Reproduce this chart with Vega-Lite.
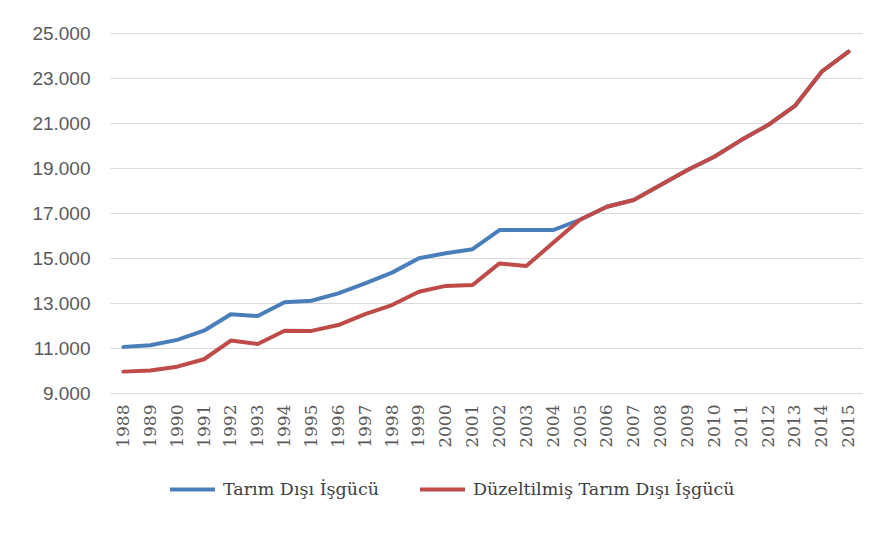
{
  "$schema": "https://vega.github.io/schema/vega-lite/v6.json",
  "autosize": "none",
  "width": 752,
  "height": 360,
  "padding": {"left": 110, "top": 33, "right": 26, "bottom": 141},
  "background": "white",
  "data": {
    "values": [
      {"year": "1988", "series": "Tarım Dışı İşgücü", "value": 11050},
      {"year": "1989", "series": "Tarım Dışı İşgücü", "value": 11120},
      {"year": "1990", "series": "Tarım Dışı İşgücü", "value": 11360},
      {"year": "1991", "series": "Tarım Dışı İşgücü", "value": 11770},
      {"year": "1992", "series": "Tarım Dışı İşgücü", "value": 12500},
      {"year": "1993", "series": "Tarım Dışı İşgücü", "value": 12420},
      {"year": "1994", "series": "Tarım Dışı İşgücü", "value": 13030},
      {"year": "1995", "series": "Tarım Dışı İşgücü", "value": 13100},
      {"year": "1996", "series": "Tarım Dışı İşgücü", "value": 13430},
      {"year": "1997", "series": "Tarım Dışı İşgücü", "value": 13870},
      {"year": "1998", "series": "Tarım Dışı İşgücü", "value": 14350},
      {"year": "1999", "series": "Tarım Dışı İşgücü", "value": 14990},
      {"year": "2000", "series": "Tarım Dışı İşgücü", "value": 15210},
      {"year": "2001", "series": "Tarım Dışı İşgücü", "value": 15390},
      {"year": "2002", "series": "Tarım Dışı İşgücü", "value": 16240},
      {"year": "2003", "series": "Tarım Dışı İşgücü", "value": 16240},
      {"year": "2004", "series": "Tarım Dışı İşgücü", "value": 16240},
      {"year": "2005", "series": "Tarım Dışı İşgücü", "value": 16700},
      {"year": "2006", "series": "Tarım Dışı İşgücü", "value": 17280},
      {"year": "2007", "series": "Tarım Dışı İşgücü", "value": 17580},
      {"year": "2008", "series": "Tarım Dışı İşgücü", "value": 18240},
      {"year": "2009", "series": "Tarım Dışı İşgücü", "value": 18910},
      {"year": "2010", "series": "Tarım Dışı İşgücü", "value": 19500},
      {"year": "2011", "series": "Tarım Dışı İşgücü", "value": 20240},
      {"year": "2012", "series": "Tarım Dışı İşgücü", "value": 20910},
      {"year": "2013", "series": "Tarım Dışı İşgücü", "value": 21760},
      {"year": "2014", "series": "Tarım Dışı İşgücü", "value": 23280},
      {"year": "2015", "series": "Tarım Dışı İşgücü", "value": 24170},
      {"year": "1988", "series": "Düzeltilmiş Tarım Dışı İşgücü", "value": 9950},
      {"year": "1989", "series": "Düzeltilmiş Tarım Dışı İşgücü", "value": 10000},
      {"year": "1990", "series": "Düzeltilmiş Tarım Dışı İşgücü", "value": 10170},
      {"year": "1991", "series": "Düzeltilmiş Tarım Dışı İşgücü", "value": 10500},
      {"year": "1992", "series": "Düzeltilmiş Tarım Dışı İşgücü", "value": 11330},
      {"year": "1993", "series": "Düzeltilmiş Tarım Dışı İşgücü", "value": 11180},
      {"year": "1994", "series": "Düzeltilmiş Tarım Dışı İşgücü", "value": 11770},
      {"year": "1995", "series": "Düzeltilmiş Tarım Dışı İşgücü", "value": 11760},
      {"year": "1996", "series": "Düzeltilmiş Tarım Dışı İşgücü", "value": 12020},
      {"year": "1997", "series": "Düzeltilmiş Tarım Dışı İşgücü", "value": 12510},
      {"year": "1998", "series": "Düzeltilmiş Tarım Dışı İşgücü", "value": 12910},
      {"year": "1999", "series": "Düzeltilmiş Tarım Dışı İşgücü", "value": 13500},
      {"year": "2000", "series": "Düzeltilmiş Tarım Dışı İşgücü", "value": 13760},
      {"year": "2001", "series": "Düzeltilmiş Tarım Dışı İşgücü", "value": 13800},
      {"year": "2002", "series": "Düzeltilmiş Tarım Dışı İşgücü", "value": 14760},
      {"year": "2003", "series": "Düzeltilmiş Tarım Dışı İşgücü", "value": 14640},
      {"year": "2004", "series": "Düzeltilmiş Tarım Dışı İşgücü", "value": 15680},
      {"year": "2005", "series": "Düzeltilmiş Tarım Dışı İşgücü", "value": 16700},
      {"year": "2006", "series": "Düzeltilmiş Tarım Dışı İşgücü", "value": 17280},
      {"year": "2007", "series": "Düzeltilmiş Tarım Dışı İşgücü", "value": 17580},
      {"year": "2008", "series": "Düzeltilmiş Tarım Dışı İşgücü", "value": 18240},
      {"year": "2009", "series": "Düzeltilmiş Tarım Dışı İşgücü", "value": 18910},
      {"year": "2010", "series": "Düzeltilmiş Tarım Dışı İşgücü", "value": 19500},
      {"year": "2011", "series": "Düzeltilmiş Tarım Dışı İşgücü", "value": 20240},
      {"year": "2012", "series": "Düzeltilmiş Tarım Dışı İşgücü", "value": 20910},
      {"year": "2013", "series": "Düzeltilmiş Tarım Dışı İşgücü", "value": 21760},
      {"year": "2014", "series": "Düzeltilmiş Tarım Dışı İşgücü", "value": 23280},
      {"year": "2015", "series": "Düzeltilmiş Tarım Dışı İşgücü", "value": 24170}
    ]
  },
  "mark": {"type": "line", "strokeWidth": 4, "strokeJoin": "round", "strokeCap": "round"},
  "encoding": {
    "x": {
      "field": "year",
      "type": "ordinal",
      "scale": {"type": "point", "padding": 0.5},
      "axis": {
        "title": null,
        "labelAngle": -90,
        "labelFont": "DejaVu Serif",
        "labelFontSize": 17,
        "labelColor": "#595959",
        "labelPadding": 11,
        "domain": false,
        "ticks": false,
        "grid": false
      }
    },
    "y": {
      "field": "value",
      "type": "quantitative",
      "scale": {"domain": [9000, 25000], "nice": false, "zero": false},
      "axis": {
        "title": null,
        "values": [9000, 11000, 13000, 15000, 17000, 19000, 21000, 23000, 25000],
        "labelExpr": "replace(format(datum.value, ','), ',', '.')",
        "labelFont": "Liberation Sans",
        "labelFontSize": 19,
        "labelColor": "#595959",
        "labelPadding": 20,
        "domain": false,
        "ticks": false,
        "grid": true,
        "gridColor": "#d9d9d9",
        "gridWidth": 1.2
      }
    },
    "color": {
      "field": "series",
      "type": "nominal",
      "sort": ["Tarım Dışı İşgücü", "Düzeltilmiş Tarım Dışı İşgücü"],
      "scale": {
        "domain": ["Tarım Dışı İşgücü", "Düzeltilmiş Tarım Dışı İşgücü"],
        "range": ["#4a7ebb", "#be4b48"]
      },
      "legend": {
        "title": null,
        "orient": "none",
        "legendX": 58,
        "legendY": 432,
        "direction": "horizontal",
        "symbolType": "stroke",
        "symbolSize": 2025,
        "symbolStrokeWidth": 4,
        "labelFont": "DejaVu Serif",
        "labelFontSize": 17.5,
        "labelColor": "#404040",
        "labelOffset": 6,
        "labelLimit": 400,
        "columnPadding": 32
      }
    }
  },
  "config": {
    "view": {"stroke": null}
  }
}
